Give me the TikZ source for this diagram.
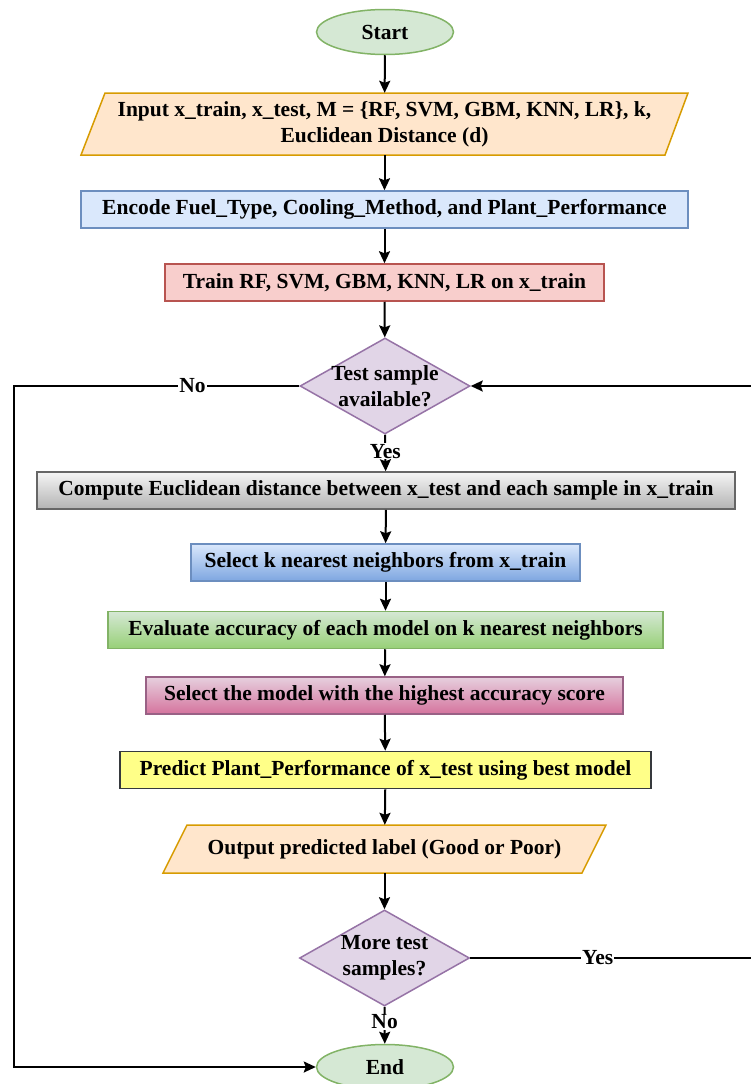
\documentclass[tikz,border=0pt]{standalone}
\usepackage{fontspec}
\setmainfont{Liberation Serif}
\usetikzlibrary{shapes.geometric,arrows.meta}
\definecolor{tgreenF}{HTML}{D5E8D4}\definecolor{tgreenD}{HTML}{82B366}
\definecolor{torangeF}{HTML}{FFE6CC}\definecolor{torangeD}{HTML}{D79B00}
\definecolor{tblueF}{HTML}{DAE8FC}\definecolor{tblueD}{HTML}{6C8EBF}\definecolor{tblueG}{HTML}{7EA6E0}
\definecolor{tredF}{HTML}{F8CECC}\definecolor{tredD}{HTML}{B85450}
\definecolor{tpurF}{HTML}{E1D5E7}\definecolor{tpurD}{HTML}{9673A6}
\definecolor{tgrayF}{HTML}{F5F5F5}\definecolor{tgrayG}{HTML}{B3B3B3}\definecolor{tgrayD}{HTML}{666666}
\definecolor{tgreenG}{HTML}{97D077}
\definecolor{tpinkF}{HTML}{E6D0DE}\definecolor{tpinkG}{HTML}{D5739D}\definecolor{tpinkD}{HTML}{996185}
\definecolor{tyelF}{HTML}{FFFF88}\definecolor{tyelD}{HTML}{36393D}
\begin{document}
\begin{tikzpicture}[x=1pt,y=-1pt,
  font=\bfseries\fontsize{21.5}{26}\selectfont,
  term/.style={ellipse,draw=tgreenD,fill=tgreenF,line width=1.5pt,minimum width=137pt,minimum height=45pt,inner sep=0pt},
  boxn/.style={rectangle,line width=1.5pt,minimum height=37pt,inner sep=0pt},
  dec/.style={diamond,draw=tpurD,fill=tpurF,line width=1.5pt,minimum width=170pt,minimum height=96pt,inner sep=0pt},
  plain/.style={inner sep=0pt,align=center},
  arr/.style={line width=2pt,-{Stealth[length=12pt,width=11pt,inset=2pt]}},
  lab/.style={fill=white,inner sep=1pt}
]
\useasboundingbox (0,0) rectangle (750,1084);
\node[term] (start) at (385,32) {Start};
% input parallelogram
\node[plain,minimum width=560pt,minimum height=62pt] (inp) at (384.5,124) {};
\draw[draw=torangeD,fill=torangeF,line width=1.5pt] (105,93) -- (688,93) -- (665,155) -- (81,155) -- cycle;
\node[plain] (inptxt) at (inp) {Input x\_train, x\_test, M = \{RF, SVM, GBM, KNN, LR\}, k,\\Euclidean Distance (d)};
\node[boxn,draw=tblueD,fill=tblueF,minimum width=607pt] (enc) at (384.5,209.5) {Encode Fuel\_Type, Cooling\_Method, and Plant\_Performance};
\node[boxn,draw=tredD,fill=tredF,minimum width=439pt] (train) at (384.5,282.5) {Train RF, SVM, GBM, KNN, LR on x\_train};
\node[dec] (test) at (385,386) {};
\node[plain] (testtxt) at (test) {Test sample\\available?};
\node[boxn,draw=tgrayD,top color=tgrayF,bottom color=tgrayG,minimum width=698pt] (comp) at (386,490.5) {Compute Euclidean distance between x\_test and each sample in x\_train};
\node[boxn,draw=tblueD,top color=tblueF,bottom color=tblueG,minimum width=389pt] (selk) at (385.5,562.5) {Select k nearest neighbors from x\_train};
\node[boxn,draw=tgreenD,top color=tgreenF,bottom color=tgreenG,minimum width=555pt] (eval) at (385.5,630) {Evaluate accuracy of each model on k nearest neighbors};
\node[boxn,draw=tpinkD,top color=tpinkF,bottom color=tpinkG,minimum width=477pt] (selm) at (384.5,695.5) {Select the model with the highest accuracy score};
\node[boxn,draw=tyelD,fill=tyelF,minimum width=531pt] (pred) at (385.5,770) {Predict Plant\_Performance of x\_test using best model};
% output parallelogram
\node[plain,minimum width=420pt,minimum height=48pt] (outp) at (384.5,849) {};
\draw[draw=torangeD,fill=torangeF,line width=1.5pt] (187,825) -- (606,825) -- (582,873) -- (163,873) -- cycle;
\node[plain] (outtxt) at (outp) {Output predicted label (Good or Poor)};
\node[dec] (more) at (384.5,958) {};
\node[plain] (moretxt) at (more) {More test\\samples?};
\node[term] (end) at (385,1067) {End};
\coordinate (lc1) at (14,386);
\coordinate (lc2) at (14,1067);
\coordinate (rc1) at (760,958);
\coordinate (rc2) at (760,386);
\draw[arr] (start) -- (inp);
\draw[arr] (inp) -- (enc);
\draw[arr] (enc) -- (train);
\draw[arr] (train) -- (test);
\draw[arr] (test.south) -- node[lab,pos=0.45]{Yes} (comp);
\draw[arr] (comp) -- (selk);
\draw[arr] (selk) -- (eval);
\draw[arr] (eval) -- (selm);
\draw[arr] (selm) -- (pred);
\draw[arr] (pred) -- (outp);
\draw[arr] (outp) -- (more);
\draw[arr] (more.south) -- node[lab,pos=0.41]{No} (end);
\draw[arr] (test.west) -- node[lab,pos=0.374]{No} (lc1) -- (lc2) -- (end.west);
\draw[arr] (more.east) -- node[lab,pos=0.44]{Yes} (rc1) -- (rc2) -- (test.east);
\end{tikzpicture}
\end{document}
